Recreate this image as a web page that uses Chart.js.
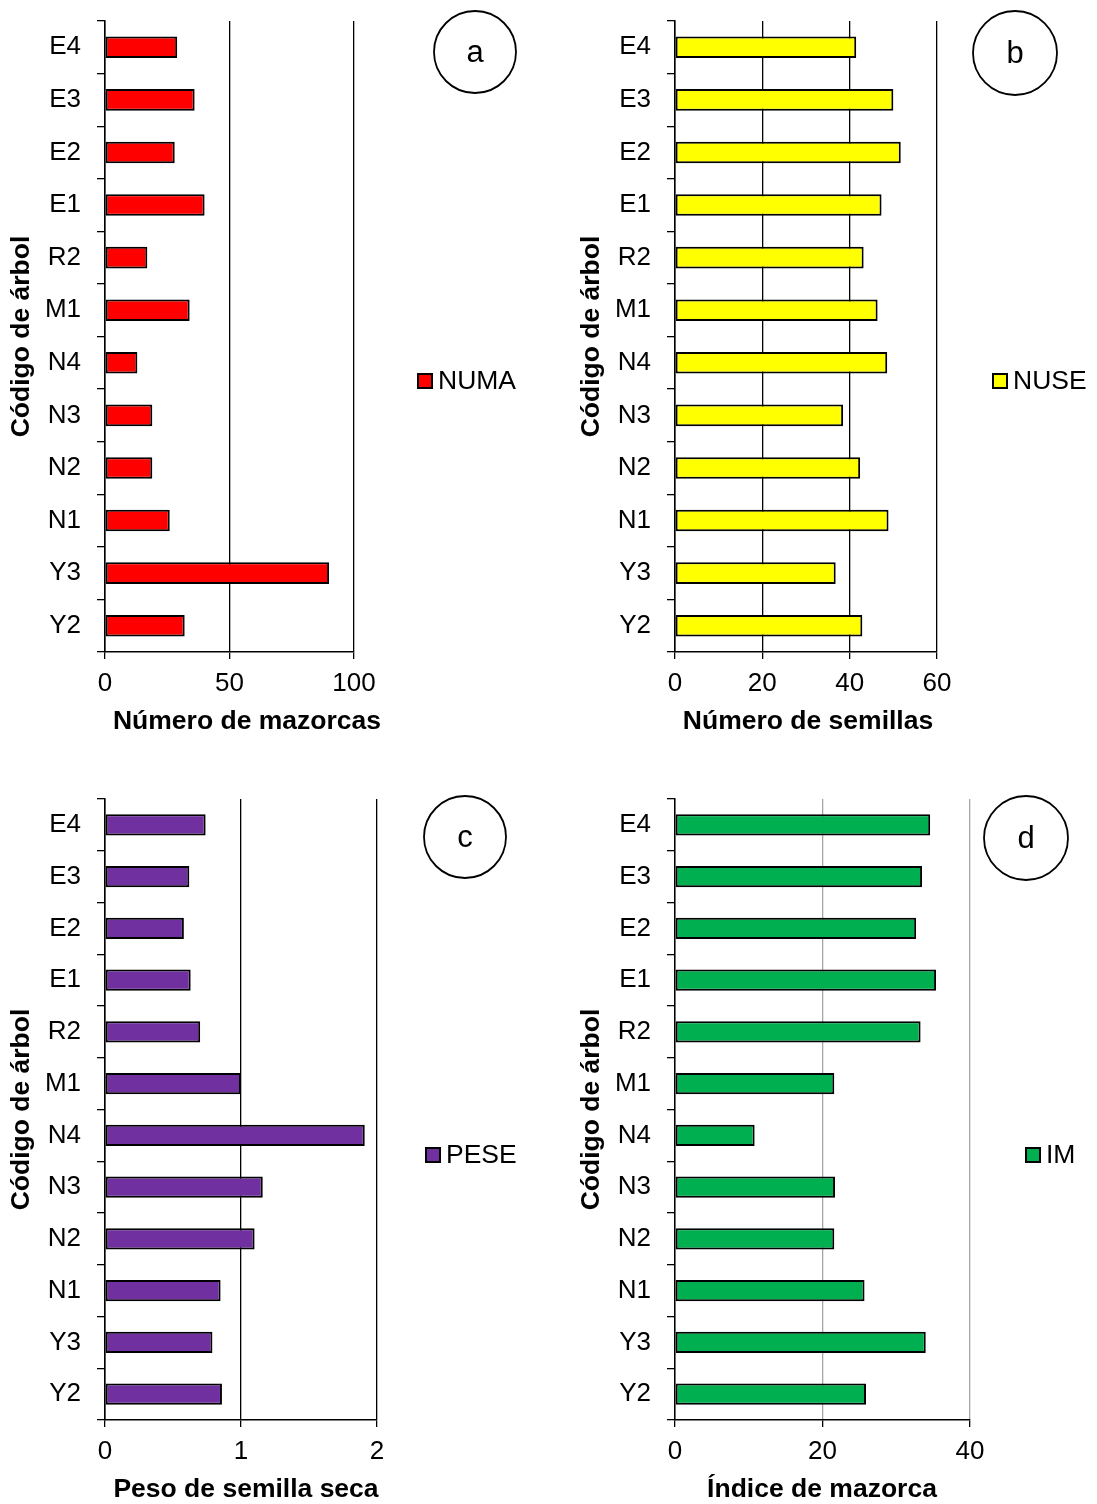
<!DOCTYPE html>
<html>
<head>
<meta charset="utf-8">
<script src="https://cdn.jsdelivr.net/npm/chart.js@4.4.1/dist/chart.umd.min.js"></script>
<style>
  html, body { margin: 0; padding: 0; background: #fff; }
  #wrap { position: relative; width: 1097px; height: 1504px; }
  canvas { position: absolute; }
</style>
</head>
<body>
<div id="wrap">
  <canvas id="panel-a" width="548" height="770" style="left:0;top:0"></canvas>
  <canvas id="panel-b" width="549" height="770" style="left:548px;top:0"></canvas>
  <canvas id="panel-c" width="548" height="734" style="left:0;top:770px"></canvas>
  <canvas id="panel-d" width="549" height="734" style="left:548px;top:770px"></canvas>
</div>
<script>
const trees = ['E4', 'E3', 'E2', 'E1', 'R2', 'M1', 'N4', 'N3', 'N2', 'N1', 'Y3', 'Y2'];

const numa = [29, 36, 28, 40, 17, 34, 13, 19, 19, 26, 90, 32];
const nuse = [41.5, 50, 51.7, 47.3, 43.2, 46.4, 48.6, 38.5, 42.4, 48.9, 36.8, 42.9];
const pese = [0.74, 0.62, 0.58, 0.63, 0.70, 1.0, 1.91, 1.16, 1.10, 0.85, 0.79, 0.86];
const im = [34.6, 33.5, 32.7, 35.4, 33.3, 21.6, 10.8, 21.7, 21.6, 25.7, 34.0, 25.9];

const xTicksA = { max: 100, step: 50 };
const xTicksB = { max: 60, step: 20 };
const xTicksC = { max: 2, step: 1 };
const xTicksD = { max: 40, step: 20 };

const FONT = "'Liberation Sans', Arial, sans-serif";

// titles, legend and circled letter drawn on top of each panel
const panelDeco = {
  id: 'panelDeco',
  afterDraw(chart, args, opts) {
    const ctx = chart.ctx;
    ctx.save();
    ctx.fillStyle = '#000';
    ctx.textBaseline = 'middle';

    ctx.font = `bold 26.5px ${FONT}`;
    ctx.textAlign = 'center';
    ctx.fillText(opts.xTitle, opts.xTitlePos[0], opts.xTitlePos[1]);

    const [lx, ly] = opts.legendPos;
    const ds = chart.data.datasets[0];
    ctx.fillStyle = ds.backgroundColor;
    ctx.fillRect(lx, ly - 7, 14, 14);
    ctx.strokeStyle = '#000';
    ctx.lineWidth = 2;
    ctx.strokeRect(lx, ly - 7, 14, 14);
    ctx.fillStyle = '#000';
    ctx.font = `26.5px ${FONT}`;
    ctx.textAlign = 'left';
    ctx.fillText(ds.label, lx + 20, ly + 1);

    const [cx, cy, r] = opts.circle;
    ctx.beginPath();
    ctx.arc(cx, cy, r, 0, Math.PI * 2);
    ctx.lineWidth = 1.8;
    ctx.stroke();
    ctx.font = `31px ${FONT}`;
    ctx.textAlign = 'center';
    ctx.fillText(opts.letter, cx, cy + 1);
    ctx.restore();
  }
};

function makePanel(id, cfg) {
  new Chart(document.getElementById(id), {
    type: 'bar',
    data: {
      labels: trees,
      datasets: [{
        label: cfg.label,
        data: cfg.values,
        backgroundColor: cfg.color,
        borderColor: '#000',
        borderWidth: 2,
        borderSkipped: false,
        barPercentage: 0.41,
        categoryPercentage: 1
      }]
    },
    options: {
      indexAxis: 'y',
      responsive: false,
      animation: false,
      devicePixelRatio: 1,
      layout: { padding: cfg.padding },
      plugins: {
        legend: { display: false },
        tooltip: { enabled: false },
        panelDeco: cfg.deco
      },
      scales: {
        x: {
          min: 0,
          max: cfg.ticks.max,
          afterFit: s => { s.height = cfg.xHeight; },
          ticks: {
            stepSize: cfg.ticks.step,
            color: '#000',
            font: { family: FONT, size: 26 },
            padding: 9,
            maxRotation: 0
          },
          grid: {
            color: cfg.gridColor,
            lineWidth: 1.3,
            tickLength: 7,
            tickColor: '#000'
          },
          border: { color: '#000', width: 1.5 }
        },
        y: {
          afterFit: s => {
            s.width = 105;
            s.paddingTop = 0;
            s.paddingBottom = 0;
          },
          ticks: {
            color: '#000',
            font: { family: FONT, size: 26 },
            padding: 16
          },
          grid: {
            offset: true,
            drawOnChartArea: false,
            color: '#000',
            lineWidth: 1.3,
            tickLength: 8
          },
          border: { color: '#000', width: 1.5 },
          title: {
            display: true,
            text: 'Código de árbol',
            color: '#000',
            font: { family: FONT, size: 26.5, weight: 'bold' },
            padding: { top: 6, bottom: 0 }
          }
        }
      }
    },
    plugins: [panelDeco]
  });
}

makePanel('panel-a', {
  label: 'NUMA', values: numa, color: '#ff0000', ticks: xTicksA, gridColor: '#000',
  padding: { left: 0, right: 194, top: 21, bottom: 0 }, xHeight: 118,
  deco: { xTitle: 'Número de mazorcas', xTitlePos: [247, 722], legendPos: [418, 381], circle: [475, 52, 41], letter: 'a' }
});

makePanel('panel-b', {
  label: 'NUSE', values: nuse, color: '#ffff00', ticks: xTicksB, gridColor: '#000',
  padding: { left: 22, right: 160, top: 21, bottom: 0 }, xHeight: 118,
  deco: { xTitle: 'Número de semillas', xTitlePos: [260, 722], legendPos: [445, 381], circle: [467, 53, 42], letter: 'b' }
});

makePanel('panel-c', {
  label: 'PESE', values: pese, color: '#7030a0', ticks: xTicksC, gridColor: '#000',
  padding: { left: 0, right: 171, top: 29, bottom: 0 }, xHeight: 84,
  deco: { xTitle: 'Peso de semilla seca', xTitlePos: [246, 720], legendPos: [426, 385], circle: [465, 67, 41], letter: 'c' }
});

makePanel('panel-d', {
  label: 'IM', values: im, color: '#00b050', ticks: xTicksD, gridColor: '#a6a6a6',
  padding: { left: 22, right: 127, top: 29, bottom: 0 }, xHeight: 84,
  deco: { xTitle: 'Índice de mazorca', xTitlePos: [274, 720], legendPos: [478, 385], circle: [478, 68, 42], letter: 'd' }
});
</script>
</body>
</html>
